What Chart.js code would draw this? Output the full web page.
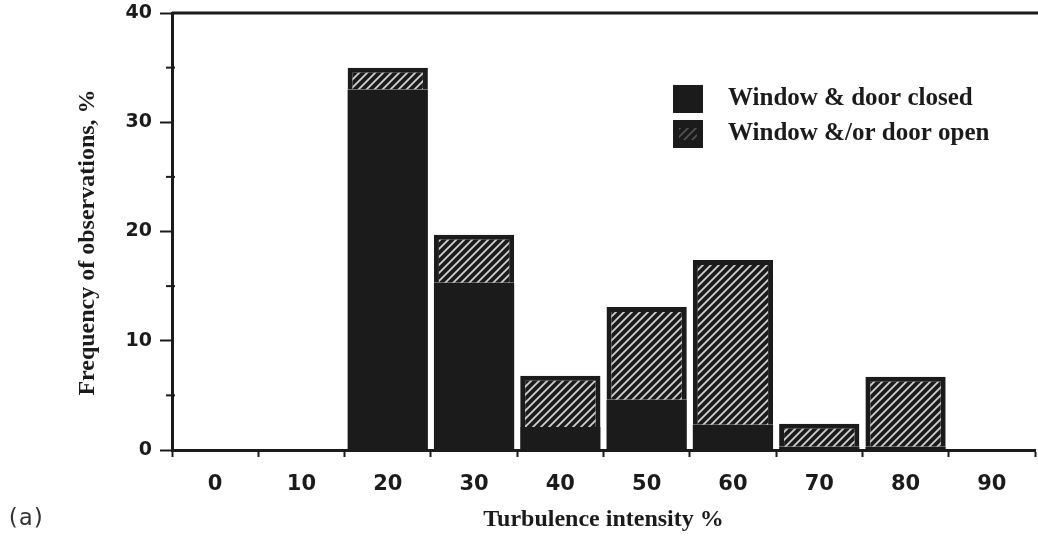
<!DOCTYPE html>
<html>
<head>
<meta charset="utf-8">
<script src="https://cdn.jsdelivr.net/npm/chart.js@4.4.1/dist/chart.umd.min.js"></script>
<style>
  html, body { margin: 0; padding: 0; background: #fff; }
  #wrap { position: relative; width: 1038px; height: 536px; }
  #label-a { position: absolute; left: 6px; top: 504px; font: 23px "DejaVu Sans Mono", monospace; letter-spacing: -1px; color: #333; }
</style>
</head>
<body>
<div id="wrap">
  <canvas id="chart" width="1038" height="536"></canvas>
  <div id="label-a">(a)</div>
</div>
<script>
// turbulence intensity classes (%)
const categories = ['0', '10', '20', '30', '40', '50', '60', '70', '80', '90'];
// frequency of observations, %
const closedValues = [null, null, 33, 15.3, 2.1, 4.6, 2.3, 0.3, 0.3, null];
const openValues = [null, null, 2, 4.4, 4.7, 8.5, 15.1, 2.1, 6.4, null];
const yTicks = [0, 10, 20, 30, 40];
const minorTicks = [5, 15, 25, 35];
const yTitle = 'Frequency of observations, %';

const ink = '#1b1b1b';

function makeHatch() {
    const c = document.createElement('canvas');
    c.width = 8;
    c.height = 8;
    const g = c.getContext('2d');
    g.fillStyle = ink;
    g.fillRect(0, 0, 8, 8);
    g.strokeStyle = '#d2d2d2';
    g.lineWidth = 1.8;
    g.beginPath();
    g.moveTo(-1, 9); g.lineTo(9, -1);
    g.moveTo(-5, 5); g.lineTo(5, -5);
    g.moveTo(3, 13); g.lineTo(13, 3);
    g.stroke();
    return g.createPattern(c, 'repeat');
}
const hatch = makeHatch();

const extras = {
    id: 'extras',
    afterDraw(chart) {
        const ctx = chart.ctx;
        const area = chart.chartArea;
        const y = chart.scales.y;
        ctx.save();
        // top frame line
        ctx.strokeStyle = ink;
        ctx.lineWidth = 3;
        ctx.beginPath();
        ctx.moveTo(area.left, area.top);
        ctx.lineTo(chart.width, area.top);
        ctx.stroke();
        // minor ticks on y axis
        ctx.lineWidth = 2;
        minorTicks.forEach(function (v) {
            const py = y.getPixelForValue(v);
            ctx.beginPath();
            ctx.moveTo(area.left - 6, py);
            ctx.lineTo(area.left + 3, py);
            ctx.stroke();
        });
        // y axis title, a little below the middle as in the original
        ctx.save();
        ctx.translate(area.left - 84, (area.top + area.bottom) / 2 + 11);
        ctx.rotate(-Math.PI / 2);
        ctx.fillStyle = ink;
        ctx.font = 'bold 24px "Liberation Serif", serif';
        ctx.textAlign = 'center';
        ctx.textBaseline = 'middle';
        ctx.fillText(yTitle, 0, 0);
        ctx.restore();
        // legend inside the plot
        const lx = area.right - 362;
        const ly = area.top + 72;
        chart.data.datasets.forEach(function (ds, i) {
            const by = ly + i * 35;
            ctx.fillStyle = ink;
            ctx.fillRect(lx, by, 30, 28);
            if (i === 1) {
                ctx.globalAlpha = 0.3;
                ctx.fillStyle = hatch;
                ctx.fillRect(lx + 6, by + 8, 18, 12);
                ctx.globalAlpha = 1;
            }
            ctx.fillStyle = ink;
            ctx.font = 'bold 25px "Liberation Serif", serif';
            ctx.textBaseline = 'middle';
            ctx.textAlign = 'left';
            ctx.fillText(ds.label, lx + 55, by + 14);
        });
        ctx.restore();
    }
};

new Chart(document.getElementById('chart').getContext('2d'), {
    type: 'bar',
    data: {
        labels: categories,
        datasets: [{
            label: 'Window & door closed',
            data: closedValues,
            backgroundColor: ink,
            borderWidth: 0,
            barPercentage: 0.93,
            categoryPercentage: 1
        }, {
            label: 'Window &/or door open',
            data: openValues,
            backgroundColor: hatch,
            borderColor: ink,
            borderWidth: 5,
            barPercentage: 0.93,
            categoryPercentage: 1
        }]
    },
    options: {
        responsive: false,
        animation: false,
        devicePixelRatio: 1,
        layout: { padding: { top: 13, right: 3, left: 0, bottom: 0 } },
        plugins: {
            legend: { display: false },
            tooltip: { enabled: false }
        },
        scales: {
            x: {
                stacked: true,
                offset: true,
                grid: { offset: true, drawOnChartArea: false, tickLength: 7, tickWidth: 2, color: ink },
                border: { display: true, width: 3, color: ink },
                ticks: { color: ink, font: { family: 'DejaVu Sans', weight: 'bold', size: 21 }, padding: 15, maxRotation: 0 },
                title: { display: true, text: 'Turbulence intensity %', color: ink, font: { family: 'Liberation Serif', weight: 'bold', size: 24 }, padding: { top: 0, bottom: 2 } },
                afterFit: function (s) { s.height = 86; }
            },
            y: {
                stacked: true,
                min: 0,
                max: 40,
                afterBuildTicks: function (s) { s.ticks = yTicks.map(function (v) { return { value: v }; }); },
                grid: { drawOnChartArea: false, tickLength: 12, tickWidth: 2, color: ink },
                border: { display: true, width: 3, color: ink },
                ticks: { color: ink, font: { family: 'DejaVu Sans', weight: 'bold', size: 19 }, padding: 8 },
                afterFit: function (s) { s.width = 172; s.paddingTop = 0; s.paddingBottom = 0; }
            }
        }
    },
    plugins: [extras]
});
</script>
</body>
</html>
